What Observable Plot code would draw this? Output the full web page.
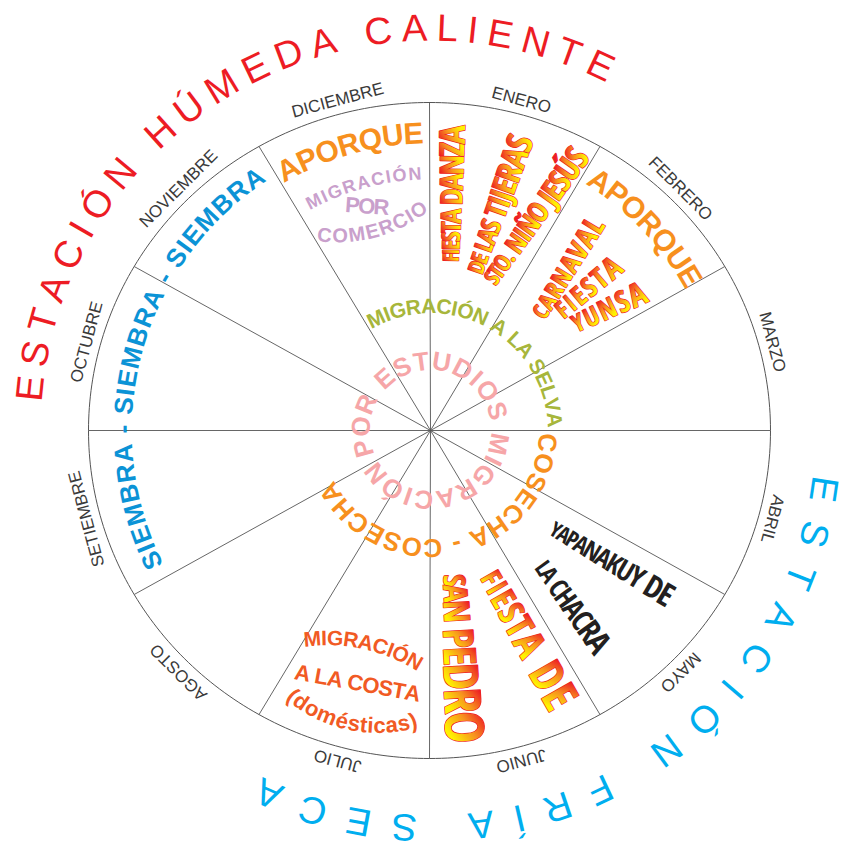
<!DOCTYPE html>
<html><head><meta charset="utf-8">
<script src="https://cdn.jsdelivr.net/npm/d3@7"></script>
<script src="https://cdn.jsdelivr.net/npm/@observablehq/plot@0.6"></script>
<style>html,body{margin:0;padding:0;background:#fff}</style>
</head><body><div id="chart"></div>
<script>
// ---------- content ----------
const months = ["ENERO","FEBRERO","MARZO","ABRIL","MAYO","JUNIO","JULIO","AGOSTO","SETIEMBRE","OCTUBRE","NOVIEMBRE","DICIEMBRE"];
const seasons = ["ESTACIÓN HÚMEDA CALIENTE", "ESTACIÓN FRÍA SECA"];
const rings = ["SIEMBRA - SIEMBRA - SIEMBRA", "MIGRACIÓN A LA SELVA", "POR ESTUDIOS MIGRACIÓN", "COSECHA - COSECHA"];
const aporque = ["APORQUE", "APORQUE"];
const comercio = ["MIGRACIÓN", "POR", "COMERCIO"];
const fiestaEnero = ["FIESTA DANZA", "DE LAS TIJERAS", "STO. NIÑO JESÚS"];
const fiestaFebrero = ["CARNAVAL", "FIESTA", "YUNSA"];
const yapanakuy = ["YAPANAKUY DE", "LA CHACRA"];
const sanPedro = ["FIESTA DE", "SAN PEDRO"];
const costa = ["MIGRACIÓN", "A LA COSTA", "(domésticas)"];

// ---------- layout ----------
const W = 846, H = 855;
const CX = 430, CY = 430;      // hub of the wheel
const EX = 429, RX = 341, RY = 328; // rim (slightly elliptical)
const rad = d => d * Math.PI / 180;
const ctx = document.createElement("canvas").getContext("2d");

function hasFont(f) {
  const s = "FIESTA DANZA WMi";
  ctx.font = "bold 40px monospace"; const a = ctx.measureText(s).width;
  ctx.font = `bold 40px "${f}", monospace`; const b = ctx.measureText(s).width;
  ctx.font = "bold 40px serif"; const c = ctx.measureText(s).width;
  ctx.font = `bold 40px "${f}", serif`; const d = ctx.measureText(s).width;
  return Math.abs(a - b) > 0.5 && Math.abs(c - d) > 0.5;
}
const SANS = "Liberation Sans";
const NARROW = ["Open Sans Condensed", "Roboto Condensed", "Liberation Sans Narrow"].find(hasFont) || SANS;

function measure(ch, size, weight, fam) {
  ctx.font = `${weight} ${size}px "${fam}"`;
  return ctx.measureText(ch).width;
}
// characters along a circular arc; a1 > a0: reads clockwise, tops outward; a1 < a0: tops inward
function arcChars(text, o) {
  const {cx = CX, cy = CY, r, a0, a1, size, weight = "bold", fam = SANS} = o;
  const chars = Array.from(text), n = chars.length;
  const w = chars.map(c => measure(c, size, weight, fam));
  const cum = []; let s = 0;
  for (let i = 0; i < n; i++) { cum.push(s + w[i] / 2); s += w[i]; }
  const natural = cum[n - 1] - cum[0];
  const target = Math.abs(a1 - a0) * Math.PI / 180 * r;
  const extra = n > 1 ? (target - natural) / (n - 1) : 0;
  const sg = Math.sign(a1 - a0);
  return chars.map((ch, i) => {
    const d = cum[i] - cum[0] + extra * i;
    const a = a0 + sg * d / r * 180 / Math.PI;
    return {ch, x: cx + r * Math.sin(rad(a)), y: cy - r * Math.cos(rad(a)), rotate: sg > 0 ? a : a - 180, size};
  });
}
// characters along a straight line, growing in size (word-art look); shrinks to avoid heavy overlap
function lineChars(text, o) {
  const {p0, p1, s0, s1, weight = "bold", fam = NARROW, tight = 2} = o;
  const chars = Array.from(text), n = chars.length;
  const dx = p1[0] - p0[0], dy = p1[1] - p0[1], L = Math.hypot(dx, dy);
  let sizes = chars.map((c, i) => s0 + (s1 - s0) * (n > 1 ? i / (n - 1) : 0));
  const layout = sz => {
    const w = chars.map((c, i) => measure(c, sz[i], weight, fam));
    const cum = []; let s = 0;
    for (let i = 0; i < n; i++) { cum.push(s + w[i] / 2); s += w[i]; }
    return cum;
  };
  let cum = layout(sizes);
  if (n > 1) {
    const natural = cum[n - 1] - cum[0] - tight * (n - 1);
    if (natural > L) { const f = L / natural; sizes = sizes.map(s => s * f); cum = layout(sizes); }
  }
  const natural = cum[n - 1] - cum[0];
  const extra = n > 1 ? (L - natural) / (n - 1) : 0;
  const ang = Math.atan2(dy, dx) * 180 / Math.PI;
  return chars.map((ch, i) => {
    const d = cum[i] - cum[0] + extra * i;
    return {ch, x: p0[0] + dx / L * d, y: p0[1] + dy / L * d, rotate: ang, size: sizes[i]};
  });
}
function textMark(data, {fill, fam = SANS, weight = "bold", stroke, strokeWidth}) {
  const opts = {x: "x", y: "y", text: "ch", rotate: "rotate", fontSize: "size",
    fill, fontFamily: `"${fam}", Arial, sans-serif`, fontWeight: weight};
  if (stroke) { opts.stroke = stroke; opts.strokeWidth = strokeWidth; }
  return Plot.text(data, opts);
}

// rim and dividers
const rim = d3.range(0, 361, 1).map(a => ({x: EX + RX * Math.sin(rad(a)), y: CY - RY * Math.cos(rad(a))}));
const dividers = months.map((m, i) => ({x1: CX, y1: CY, x2: EX + RX * Math.sin(rad(i * 30)), y2: CY - RY * Math.cos(rad(i * 30))}));
const monthLabels = months.map((m, i) => {
  const a = i * 30 + 15;
  return {ch: m, x: EX + (RX + 14) * Math.sin(rad(a)), y: CY - (RY + 14) * Math.cos(rad(a)), rotate: a, size: 17};
});

const GRAD = "url(#wordart)";
const WA = {fill: GRAD, fam: NARROW, stroke: "#ed1c24", strokeWidth: 1.3};
const marks = [
  () => {
    const ns = "http://www.w3.org/2000/svg";
    const defs = document.createElementNS(ns, "defs");
    const g = document.createElementNS(ns, "linearGradient");
    g.setAttribute("id", "wordart");
    g.setAttribute("x1", "0"); g.setAttribute("y1", "0"); g.setAttribute("x2", "0.25"); g.setAttribute("y2", "1");
    [["0.28", "#ed1c24"], ["0.55", "#f7931e"], ["0.85", "#fff200"]].forEach(([o, c]) => {
      const st = document.createElementNS(ns, "stop");
      st.setAttribute("offset", o); st.setAttribute("stop-color", c); g.appendChild(st);
    });
    defs.appendChild(g);
    return defs;
  },
  Plot.line(rim, {x: "x", y: "y", stroke: "#555", strokeWidth: 1}),
  Plot.link(dividers, {x1: "x1", y1: "y1", x2: "x2", y2: "y2", stroke: "#555", strokeWidth: 0.9}),
  textMark(monthLabels, {fill: "#3a3a3a", weight: "normal"}),
  // seasons
  textMark(arcChars(seasons[0], {r: 402, a0: -84, a1: 25, size: 38, weight: "normal"}), {fill: "#ed1c24", weight: "normal"}),
  textMark(arcChars(seasons[1], {r: 397, a0: 98.5, a1: 204, size: 38, weight: "normal"}), {fill: "#00aeef", weight: "normal"}),
  // rings
  textMark(arcChars(rings[0], {r: 307, a0: -115, a1: -35, size: 26}), {fill: "#0b93d6"}),
  textMark(arcChars(rings[1], {r: 124, a0: -26, a1: 85, size: 21}), {fill: "#a7b63b"}),
  textMark(arcChars(rings[2], {r: 69, a0: -105, a1: 232, size: 26}), {fill: "#f6a6a8"}),
  textMark(arcChars(rings[3], {r: 117, a0: 96, a1: 238, size: 26}), {fill: "#f7901e"}),
  // aporque
  textMark(arcChars(aporque[0], {r: 297, a0: -28.5, a1: -3.3, size: 30}), {fill: "#f7901e"}),
  textMark(arcChars(aporque[1], {r: 301, a0: 34.2, a1: 59.2, size: 30}), {fill: "#f7901e"}),
  // migración por comercio
  textMark(arcChars(comercio[0], {r: 257, a0: -27, a1: -3.5, size: 18}), {fill: "#c9a0cc"}),
  textMark(lineChars(comercio[1], {p0: [352, 205], p1: [381, 207], s0: 22, s1: 22, fam: SANS}), {fill: "#c9a0cc", fam: SANS}),
  textMark(arcChars(comercio[2], {cx: 336.5, cy: 92.5, r: 143, a0: 185, a1: 145, size: 20}), {fill: "#c9a0cc"}),
  // enero
  textMark(lineChars(fiestaEnero[0], {p0: [451, 257], p1: [453, 134], s0: 22, s1: 36}), WA),
  textMark(lineChars(fiestaEnero[1], {p0: [477, 267], p1: [520, 143], s0: 22, s1: 36}), WA),
  textMark(lineChars(fiestaEnero[2], {p0: [492, 278], p1: [577, 157], s0: 22, s1: 34}), WA),
  // febrero
  textMark(lineChars(fiestaFebrero[0], {p0: [541, 312], p1: [594, 225], s0: 22, s1: 30}), WA),
  textMark(lineChars(fiestaFebrero[1], {p0: [562, 310], p1: [612, 268], s0: 24, s1: 30}), WA),
  textMark(lineChars(fiestaFebrero[2], {p0: [578, 323], p1: [637, 295], s0: 24, s1: 32}), WA),
  // mayo
  textMark(lineChars(yapanakuy[0], {p0: [555, 530], p1: [665, 595], s0: 26, s1: 40}), {fill: "#231f20", fam: NARROW}),
  textMark(lineChars(yapanakuy[1], {p0: [542, 567], p1: [597, 643], s0: 28, s1: 40}), {fill: "#231f20", fam: NARROW}),
  // junio
  textMark(lineChars(sanPedro[0], {p0: [490, 578], p1: [558, 697], s0: 28, s1: 48}), WA),
  textMark(lineChars(sanPedro[1], {p0: [453, 580], p1: [462, 727], s0: 30, s1: 54}), WA),
  // julio
  textMark(arcChars(costa[0], {cx: 327, cy: 812, r: 174, a0: -5, a1: 30, size: 21}), {fill: "#f15a24"}),
  textMark(lineChars(costa[1], {p0: [302, 673], p1: [412, 693], s0: 22, s1: 22, fam: SANS}), {fill: "#f15a24", fam: SANS}),
  textMark(arcChars(costa[2], {cx: 377.6, cy: 589.3, r: 136, a0: 219, a1: 165, size: 22}), {fill: "#f15a24"})
];

const chart = Plot.plot({
  width: W, height: H, margin: 0,
  x: {domain: [0, W], range: [0, W], axis: null},
  y: {domain: [0, H], range: [0, H], axis: null},
  style: {background: "#fff"},
  marks
});
document.getElementById("chart").appendChild(chart);
</script></body></html>
